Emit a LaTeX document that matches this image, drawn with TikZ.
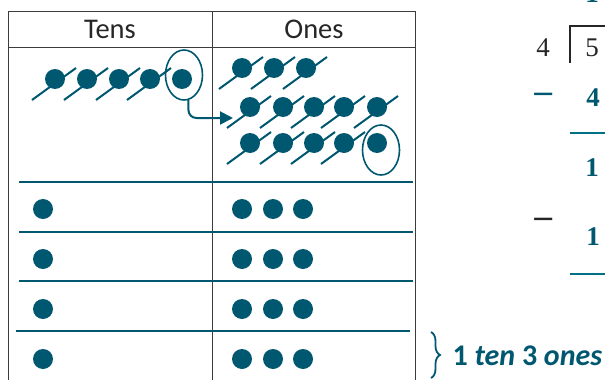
\documentclass[tikz,border=0pt]{standalone}
\usepackage{fontspec}
\setmainfont{Carlito}
\newfontfamily\numfont{Liberation Serif}
\newfontfamily\symfont{DejaVu Sans}
\usetikzlibrary{arrows.meta,shapes.geometric,decorations.pathreplacing}
\definecolor{dotblue}{RGB}{0,87,112}
\definecolor{rulegray}{RGB}{60,60,60}
\definecolor{textgray}{RGB}{38,38,38}
\tikzset{
  counter/.style={circle, fill=dotblue, inner sep=0pt, minimum size=20pt},
  crossout/.style={dotblue, line width=2pt},
  ring/.style={ellipse, draw=dotblue, line width=1.6pt, minimum width=37pt, minimum height=50pt},
  rowline/.style={dotblue, line width=2.2pt},
  numtext/.style={font=\numfont\fontsize{27}{30}\selectfont},
  boldnum/.style={font=\numfont\bfseries\fontsize{27}{30}\selectfont, text=dotblue},
  minus/.style={font=\symfont\fontsize{29}{31}\selectfont},
}
\begin{document}
\begin{tikzpicture}[x=1pt, y=-1pt]
    \useasboundingbox (0,0) rectangle (605,380);
    % place value chart
    \draw[rulegray, line width=1pt] (8,11) rectangle (415,395);
    \draw[rulegray, line width=1pt] (8,47) -- (415,47);
    \draw[rulegray, line width=1pt] (212,11) -- (212,395);
    \node[font=\fontsize{28.5}{30}\selectfont, text=textgray] (tens) at (110,29) {Tens};
    \node[font=\fontsize{28.5}{30}\selectfont, text=textgray] (ones) at (314,29) {Ones};
    % regrouping: 5 tens, 2 ones
    \foreach \x [count=\i] in {55,87,119,150,182}
        \node[counter] (t\i) at (\x,79) {};
    \foreach \x [count=\i] in {242,274,306}
        \node[counter] (a\i) at (\x,68) {};
    \foreach \x [count=\i] in {250,283,314,344,377}
        \node[counter] (b\i) at (\x,107) {};
    \foreach \x [count=\i] in {250,283,314,344,377}
        \node[counter] (c\i) at (\x,143) {};
    \foreach \n in {t1,t2,t3,t4,a1,a2,a3,b1,b2,b3,b4,b5,c1,c2,c3,c4}
        \draw[crossout] ([shift={(-23,21)}]\n.center) -- ([shift={(21,-11)}]\n.center);
    \node[ring] (tring) at (184,75) {};
    \node[ring] (oring) at (381,150) {};
    \coordinate (hit) at (233,118);
    \draw[dotblue, line width=2pt, rounded corners=8pt, -{Triangle[length=13pt,width=13pt]}] (tring.-80) |- (hit);
    % groups of 4
    \draw[rowline] (19,182) -- (413,182);
    \draw[rowline] (19,232) -- (413,232);
    \draw[rowline] (19,281) -- (413,281);
    \draw[rowline] (16,331) -- (410,331);
    \foreach \y [count=\r] in {209,259,309,359} {
        \node[counter] (g\r t) at (43,\y) {};
        \node[counter] (g\r a) at (242,\y) {};
        \node[counter] (g\r b) at (273,\y) {};
        \node[counter] (g\r c) at (303,\y) {};
    }
    \draw[decorate, decoration={brace, amplitude=9pt}, dotblue, line width=1.8pt] (431,332) -- (431,378);
    \node[anchor=west, font=\bfseries\fontsize{30}{32}\selectfont, text=dotblue] (rest) at (449,356) {1 \textit{ten} 3 \textit{ones}};
    % long division
    \node[numtext, text=textgray] (dvs) at (543,48) {4};
    \node[numtext, text=textgray] (dvd) at (592,48) {5};
    \draw[black!85, line width=1.8pt] (570,63) -- (570,26) -- (610,26);
    \node[boldnum, anchor=base] (quo) at (592,2) {1};
    \node[minus, text=dotblue] (m1) at (544,98) {−};
    \node[boldnum] (s1) at (593,98) {4};
    \draw[dotblue!85!cyan, line width=2.2pt] (570,133) -- (610,133);
    \node[boldnum] (r1) at (592,168) {1};
    \node[minus, text=textgray] (m2) at (544,223) {−};
    \node[boldnum] (s2) at (593,237) {1};
    \draw[dotblue!85!cyan, line width=2.2pt] (570,274) -- (610,274);
\end{tikzpicture}
\end{document}
